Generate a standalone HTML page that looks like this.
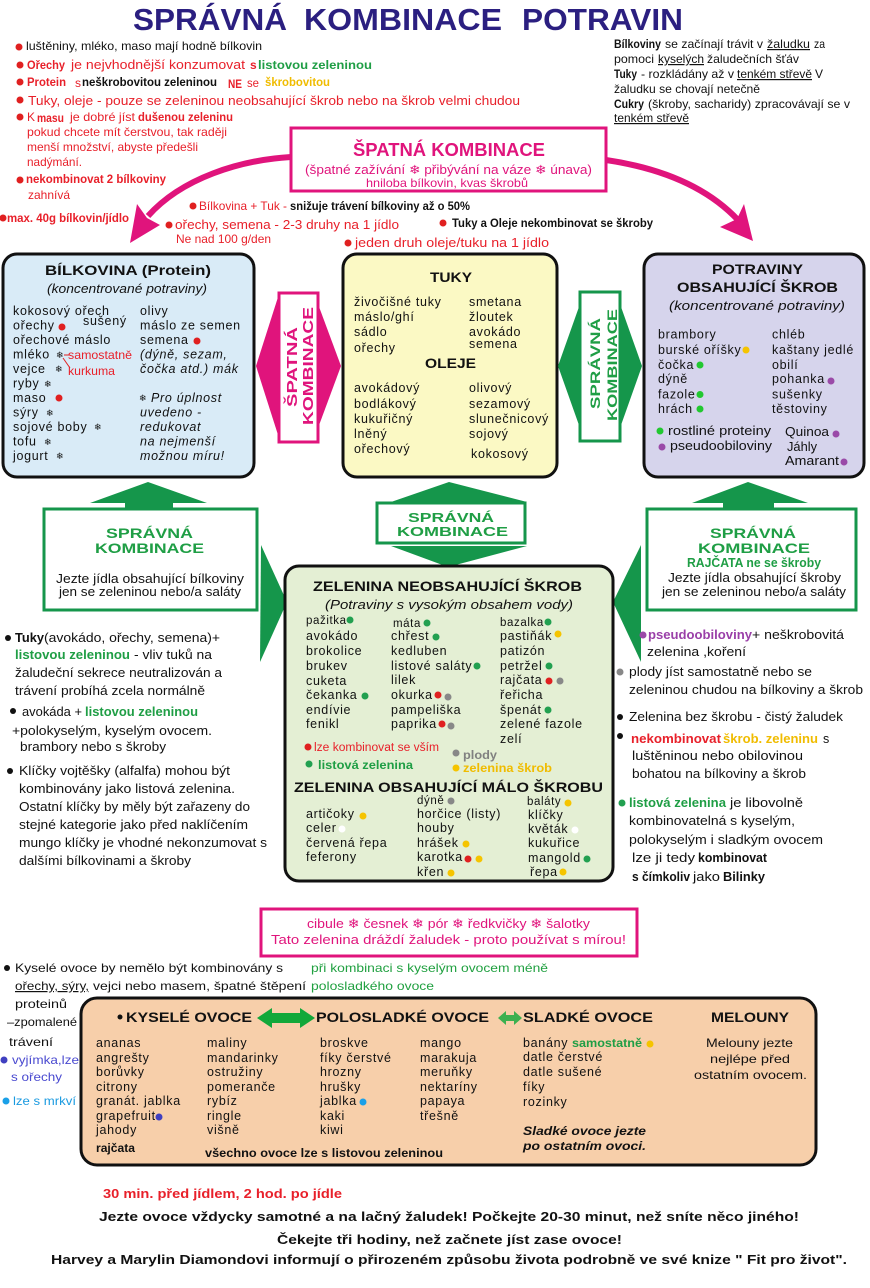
<!DOCTYPE html>
<html><head><meta charset="utf-8">
<style>
html,body{margin:0;padding:0;background:#fff;}
svg{display:block}
text{font-family:"Liberation Sans","DejaVu Sans",sans-serif;font-size:12px;fill:#111}
.bx{font-size:12.5px;letter-spacing:.7px}
.bd{font-weight:bold}
.it{font-style:italic}
.r{fill:#e8202a}
.g{fill:#1f9e45}
.pk{fill:#e0147c}
.gold{fill:#f0bc00}
.sf{font-family:"DejaVu Sans",sans-serif;font-size:9px}
.u{text-decoration:underline}
</style></head><body>
<svg width="870" height="1288" viewBox="0 0 870 1288" xmlns="http://www.w3.org/2000/svg">
<rect width="870" height="1288" fill="#fff"/>

<!-- TITLE -->
<g font-weight="bold">
<text x="133" y="30" style="font-size:31px;fill:#2b1f80;font-weight:bold" textLength="154" lengthAdjust="spacingAndGlyphs">SPRÁVNÁ</text>
<text x="304" y="30" style="font-size:31px;fill:#2b1f80;font-weight:bold" textLength="198" lengthAdjust="spacingAndGlyphs">KOMBINACE</text>
<text x="522" y="30" style="font-size:31px;fill:#2b1f80;font-weight:bold" textLength="161" lengthAdjust="spacingAndGlyphs">POTRAVIN</text>
</g>

<!-- TOP LEFT NOTES -->
<circle cx="19" cy="47" r="3.5" fill="#e02020"/>
<text x="26" y="50" textLength="236" lengthAdjust="spacingAndGlyphs">luštěniny, mléko, maso mají hodně bílkovin</text>
<circle cx="20" cy="65" r="3.5" fill="#e02020"/>
<text x="27" y="69" class="r bd" textLength="38" lengthAdjust="spacingAndGlyphs">Ořechy</text>
<text x="71" y="69" class="r" style="font-size:12.5px" textLength="174" lengthAdjust="spacingAndGlyphs">je nejvhodnější konzumovat</text>
<text x="250" y="69" class="r bd">s</text>
<text x="258" y="69" class="g bd" textLength="114" lengthAdjust="spacingAndGlyphs">listovou zeleninou</text>
<circle cx="20" cy="82" r="3.5" fill="#e02020"/>
<text x="27" y="86" class="r bd" textLength="39" lengthAdjust="spacingAndGlyphs">Protein</text>
<text x="75" y="87" class="r">s</text>
<text x="82" y="86" class="bd" textLength="135" lengthAdjust="spacingAndGlyphs">neškrobovitou zeleninou</text>
<text x="228" y="88" class="r bd" textLength="14" lengthAdjust="spacingAndGlyphs">NE</text>
<text x="247" y="87" class="r" textLength="12" lengthAdjust="spacingAndGlyphs">se</text>
<text x="265" y="86" class="gold bd" textLength="65" lengthAdjust="spacingAndGlyphs">škrobovitou</text>
<circle cx="20" cy="100" r="3.5" fill="#e02020"/>
<text x="28" y="105" class="r" style="font-size:13px" textLength="492" lengthAdjust="spacingAndGlyphs">Tuky, oleje - pouze se zeleninou neobsahující škrob nebo na škrob velmi chudou</text>
<circle cx="20" cy="117" r="3.5" fill="#e02020"/>
<text x="27" y="121" class="r">K</text>
<text x="37" y="122" class="r bd" textLength="27" lengthAdjust="spacingAndGlyphs">masu</text>
<text x="70" y="121" class="r" textLength="65" lengthAdjust="spacingAndGlyphs">je dobré jíst</text>
<text x="138" y="121" class="r bd" textLength="95" lengthAdjust="spacingAndGlyphs">dušenou zeleninu</text>
<text x="27" y="136" class="r" textLength="200" lengthAdjust="spacingAndGlyphs">pokud chcete mít čerstvou, tak raději</text>
<text x="27" y="151" class="r" textLength="171" lengthAdjust="spacingAndGlyphs">menší množství, abyste předešli</text>
<text x="27" y="166" class="r" textLength="55" lengthAdjust="spacingAndGlyphs">nadýmání.</text>
<circle cx="20" cy="180" r="3.5" fill="#e02020"/>
<text x="26" y="183" class="r bd" textLength="140" lengthAdjust="spacingAndGlyphs">nekombinovat 2 bílkoviny</text>
<text x="28" y="199" class="r" textLength="42" lengthAdjust="spacingAndGlyphs">zahnívá</text>
<circle cx="3" cy="218" r="3.5" fill="#e02020"/>
<text x="7" y="222" class="r bd" textLength="122" lengthAdjust="spacingAndGlyphs">max. 40g bílkovin/jídlo</text>
<circle cx="193" cy="206" r="3.5" fill="#e02020"/>
<text x="199" y="210" class="r" textLength="88" lengthAdjust="spacingAndGlyphs">Bílkovina + Tuk -</text>
<text x="290" y="210" class="bd" textLength="180" lengthAdjust="spacingAndGlyphs">snižuje trávení bílkoviny až o 50%</text>
<circle cx="169" cy="225" r="3.5" fill="#e02020"/>
<text x="175" y="229" class="r" style="font-size:13px" textLength="224" lengthAdjust="spacingAndGlyphs">ořechy, semena - 2-3 druhy na 1 jídlo</text>
<text x="176" y="243" class="r" textLength="95" lengthAdjust="spacingAndGlyphs">Ne nad 100 g/den</text>
<circle cx="348" cy="243" r="3.5" fill="#e02020"/>
<text x="355" y="247" class="r" style="font-size:13px" textLength="194" lengthAdjust="spacingAndGlyphs">jeden druh oleje/tuku na 1 jídlo</text>
<circle cx="443" cy="223" r="3.5" fill="#e02020"/>
<text x="452" y="227" class="bd" textLength="201" lengthAdjust="spacingAndGlyphs">Tuky a Oleje nekombinovat se škroby</text>

<!-- TOP RIGHT NOTES -->
<text x="614" y="48" class="bd" textLength="47" lengthAdjust="spacingAndGlyphs">Bílkoviny</text>
<text x="665" y="48" textLength="98" lengthAdjust="spacingAndGlyphs">se začínají trávit v</text>
<text x="767" y="48" class="u" textLength="43" lengthAdjust="spacingAndGlyphs">žaludku</text>
<text x="814" y="48" textLength="11" lengthAdjust="spacingAndGlyphs">za</text>
<text x="614" y="63" textLength="40" lengthAdjust="spacingAndGlyphs">pomoci</text>
<text x="658" y="63" class="u" textLength="46" lengthAdjust="spacingAndGlyphs">kyselých</text>
<text x="707" y="63" textLength="92" lengthAdjust="spacingAndGlyphs">žaludečních šťáv</text>
<text x="614" y="78" class="bd" textLength="23" lengthAdjust="spacingAndGlyphs">Tuky</text>
<text x="641" y="78" textLength="93" lengthAdjust="spacingAndGlyphs">- rozkládány až v</text>
<text x="737" y="78" class="u" textLength="75" lengthAdjust="spacingAndGlyphs">tenkém střevě</text>
<text x="815" y="78">V</text>
<text x="614" y="93" textLength="146" lengthAdjust="spacingAndGlyphs">žaludku se chovají netečně</text>
<text x="614" y="108" class="bd" textLength="30" lengthAdjust="spacingAndGlyphs">Cukry</text>
<text x="648" y="108" textLength="202" lengthAdjust="spacingAndGlyphs">(škroby, sacharidy) zpracovávají se v</text>
<text x="614" y="122" class="u" textLength="75" lengthAdjust="spacingAndGlyphs">tenkém střevě</text>

<!-- SPATNA KOMBINACE BOX -->
<rect x="291" y="128" width="315" height="63" fill="#fff" stroke="#e0147c" stroke-width="3"/>
<text x="353" y="156" class="pk bd" style="font-size:18px" textLength="192" lengthAdjust="spacingAndGlyphs">ŠPATNÁ KOMBINACE</text>
<text x="305" y="174" class="pk" style="font-size:12.5px" textLength="287" lengthAdjust="spacingAndGlyphs">(špatné zažívání ❄ přibývání na váze ❄ únava)</text>
<text x="366" y="187" class="pk" textLength="162" lengthAdjust="spacingAndGlyphs">hniloba bílkovin, kvas škrobů</text>

<!-- pink curved arrows -->
<path d="M291,157 C240,160 182,178 148,216" stroke="#e0147c" stroke-width="6" fill="none"/>
<polygon points="130,243 137,204 147,218 160,225" fill="#e0147c"/>
<path d="M606,160 C660,168 706,186 738,220" stroke="#e0147c" stroke-width="6" fill="none"/>
<polygon points="753,241 744,204 737,219 720,227" fill="#e0147c"/>

<!-- LEFT BOX: BILKOVINA -->
<rect x="3" y="254" width="251" height="223" rx="14" fill="#d9ebf7" stroke="#111" stroke-width="3"/>
<text x="45" y="275" class="bd" style="font-size:14px" textLength="166" lengthAdjust="spacingAndGlyphs">BÍLKOVINA  (Protein)</text>
<text x="47" y="293" class="it" style="font-size:12.5px" textLength="160" lengthAdjust="spacingAndGlyphs">(koncentrované potraviny)</text>
<g class="bx">
<text class="bx" x="13" y="315">kokosový ořech</text>
<text class="bx" x="83" y="325">sušený</text>
<text class="bx" x="13" y="329.5">ořechy</text>
<text class="bx" x="13" y="344">ořechové máslo</text>
<text class="bx" x="13" y="358.5">mléko</text>
<text class="bx" x="13" y="373">vejce</text>
<text class="bx" x="13" y="387.5">ryby</text>
<text class="bx" x="13" y="402">maso</text>
<text class="bx" x="13" y="416.5">sýry</text>
<text class="bx" x="13" y="431">sojové boby</text>
<text class="bx" x="13" y="445.5">tofu</text>
<text class="bx" x="13" y="460">jogurt</text>
<text class="bx" x="140" y="315">olivy</text>
<text class="bx" x="140" y="329.5">máslo ze semen</text>
<text class="bx" x="140" y="344">semena</text>
<text class="bx it" x="140" y="358.5">(dýně, sezam,</text>
<text class="bx it" x="140" y="373">čočka atd.) mák</text>
<text class="bx it" x="151" y="402">Pro úplnost</text>
<text class="bx it" x="140" y="416.5">uvedeno -</text>
<text class="bx it" x="140" y="431">redukovat</text>
<text class="bx it" x="140" y="445.5">na nejmenší</text>
<text class="bx it" x="140" y="460">možnou míru!</text>
</g>
<circle cx="62" cy="327" r="3.5" fill="#e02020"/>
<circle cx="197" cy="341" r="3.5" fill="#e02020"/>
<circle cx="59" cy="398" r="3.5" fill="#e02020"/>
<text class="sf" x="56" y="358">❄</text>
<text class="sf" x="55" y="372">❄</text>
<text class="sf" x="44" y="387">❄</text>
<text class="sf" x="46" y="416">❄</text>
<text class="sf" x="94" y="430">❄</text>
<text class="sf" x="44" y="445">❄</text>
<text class="sf" x="56" y="459">❄</text>
<text class="sf" x="139" y="401">❄</text>
<line x1="64" y1="355" x2="69" y2="355" stroke="#e02020" stroke-width="1"/>
<line x1="63" y1="358" x2="70" y2="368" stroke="#e02020" stroke-width="1"/>
<text x="68" y="359" class="r" textLength="64" lengthAdjust="spacingAndGlyphs">samostatně</text>
<text x="68" y="375" class="r" textLength="47" lengthAdjust="spacingAndGlyphs">kurkuma</text>

<!-- PINK DOUBLE ARROW (vertical label) -->
<polygon points="256,366 279,294 279,438" fill="#e0147c"/>
<polygon points="318,304 341,366 318,428" fill="#e0147c"/>
<rect x="279" y="293" width="39" height="149" fill="#fff" stroke="#e0147c" stroke-width="3"/>
<text transform="translate(297,407) rotate(-90)" class="pk bd" style="font-size:15px" textLength="80" lengthAdjust="spacingAndGlyphs">ŠPATNÁ</text>
<text transform="translate(313,425) rotate(-90)" class="pk bd" style="font-size:15px" textLength="118" lengthAdjust="spacingAndGlyphs">KOMBINACE</text>

<!-- MIDDLE BOX: TUKY -->
<rect x="343" y="254" width="214" height="223" rx="14" fill="#fbf9c4" stroke="#111" stroke-width="3"/>
<text x="430" y="282" class="bd" style="font-size:14px" textLength="42" lengthAdjust="spacingAndGlyphs">TUKY</text>
<text class="bx" x="354" y="306">živočišné tuky</text>
<text class="bx" x="354" y="321">máslo/ghí</text>
<text class="bx" x="354" y="336">sádlo</text>
<text class="bx" x="354" y="352">ořechy</text>
<text class="bx" x="469" y="306">smetana</text>
<text class="bx" x="469" y="321">žloutek</text>
<text class="bx" x="469" y="336">avokádo</text>
<text class="bx" x="469" y="348">semena</text>
<text x="425" y="368" class="bd" style="font-size:14px" textLength="51" lengthAdjust="spacingAndGlyphs">OLEJE</text>
<text class="bx" x="354" y="392">avokádový</text>
<text class="bx" x="354" y="408">bodlákový</text>
<text class="bx" x="354" y="423">kukuřičný</text>
<text class="bx" x="354" y="438">lněný</text>
<text class="bx" x="354" y="453">ořechový</text>
<text class="bx" x="469" y="392">olivový</text>
<text class="bx" x="469" y="408">sezamový</text>
<text class="bx" x="469" y="423">slunečnicový</text>
<text class="bx" x="469" y="438">sojový</text>
<text class="bx" x="471" y="458">kokosový</text>

<!-- GREEN DOUBLE ARROW (vertical label) -->
<polygon points="558,366 580,304 580,428" fill="#15964b"/>
<polygon points="620,304 642,366 620,428" fill="#15964b"/>
<rect x="580" y="292" width="40" height="149" fill="#fff" stroke="#15964b" stroke-width="3"/>
<text transform="translate(600,409) rotate(-90)" class="g bd" style="font-size:14px" textLength="91" lengthAdjust="spacingAndGlyphs">SPRÁVNÁ</text>
<text transform="translate(617,421) rotate(-90)" class="g bd" style="font-size:14px" textLength="112" lengthAdjust="spacingAndGlyphs">KOMBINACE</text>

<!-- RIGHT BOX: SKROB -->
<rect x="644" y="254" width="220" height="223" rx="14" fill="#d6d4ec" stroke="#111" stroke-width="3"/>
<text x="712" y="274" class="bd" style="font-size:14px" textLength="91" lengthAdjust="spacingAndGlyphs">POTRAVINY</text>
<text x="677" y="292" class="bd" style="font-size:14px" textLength="161" lengthAdjust="spacingAndGlyphs">OBSAHUJÍCÍ ŠKROB</text>
<text x="669" y="310" class="it" style="font-size:12.5px" textLength="176" lengthAdjust="spacingAndGlyphs">(koncentrované potraviny)</text>
<text class="bx" x="658" y="338.5">brambory</text>
<text class="bx" x="658" y="354">burské oříšky</text>
<text class="bx" x="658" y="369">čočka</text>
<text class="bx" x="658" y="383">dýně</text>
<text class="bx" x="658" y="398.5">fazole</text>
<text class="bx" x="658" y="413">hrách</text>
<text class="bx" x="772" y="338.5">chléb</text>
<text class="bx" x="772" y="354">kaštany jedlé</text>
<text class="bx" x="772" y="369">obilí</text>
<text class="bx" x="772" y="383">pohanka</text>
<text class="bx" x="772" y="398.5">sušenky</text>
<text class="bx" x="772" y="413">těstoviny</text>
<circle cx="746" cy="350" r="3.5" fill="#f5c400"/>
<circle cx="700" cy="365" r="3.5" fill="#22c830"/>
<circle cx="831" cy="381" r="3.5" fill="#9a4aa8"/>
<circle cx="700" cy="394.5" r="3.5" fill="#22c830"/>
<circle cx="700" cy="409" r="3.5" fill="#22c830"/>
<circle cx="660" cy="431" r="3.5" fill="#22c830"/>
<text x="668" y="435" style="font-size:12.5px" textLength="103" lengthAdjust="spacingAndGlyphs">rostliné proteiny</text>
<circle cx="662" cy="447" r="3.5" fill="#9a4aa8"/>
<text x="670" y="450" style="font-size:12.5px" textLength="102" lengthAdjust="spacingAndGlyphs">pseudoobiloviny</text>
<text x="785" y="436" style="font-size:12.5px" textLength="44" lengthAdjust="spacingAndGlyphs">Quinoa</text>
<circle cx="836" cy="434" r="3.5" fill="#9a4aa8"/>
<text x="787" y="451" style="font-size:12.5px" textLength="30" lengthAdjust="spacingAndGlyphs">Jáhly</text>
<text x="785" y="465" style="font-size:12.5px" textLength="54" lengthAdjust="spacingAndGlyphs">Amarant</text>
<circle cx="844" cy="462" r="3.5" fill="#9a4aa8"/>

<!-- MIDDLE ROW GREEN ARROWS/BOXES -->
<polygon points="148,482 90,503 125,503 125,511 173,511 173,503 207,503" fill="#15964b"/>
<rect x="44" y="509" width="213" height="101" fill="#fff" stroke="#15964b" stroke-width="3"/>
<polygon points="261,545 287,602 260,662" fill="#15964b"/>
<text x="106" y="538" class="g bd" style="font-size:14px" textLength="87" lengthAdjust="spacingAndGlyphs">SPRÁVNÁ</text>
<text x="95" y="553" class="g bd" style="font-size:14px" textLength="109" lengthAdjust="spacingAndGlyphs">KOMBINACE</text>
<text x="56" y="583" style="font-size:12.5px" textLength="188" lengthAdjust="spacingAndGlyphs">Jezte jídla obsahující bílkoviny</text>
<text x="59" y="596" style="font-size:12.5px" textLength="182" lengthAdjust="spacingAndGlyphs">jen se zeleninou nebo/a saláty</text>

<polygon points="449,482 391,502 527,502" fill="#15964b"/>
<rect x="377" y="503" width="148" height="40" fill="#fff" stroke="#15964b" stroke-width="3"/>
<polygon points="391,546 527,546 448,567" fill="#15964b"/>
<text x="408" y="522" class="g bd" style="font-size:12.5px" textLength="86" lengthAdjust="spacingAndGlyphs">SPRÁVNÁ</text>
<text x="397" y="536" class="g bd" style="font-size:12.5px" textLength="111" lengthAdjust="spacingAndGlyphs">KOMBINACE</text>

<polygon points="748,482 692,503 723,503 723,511 774,511 774,503 808,503" fill="#15964b"/>
<rect x="647" y="509" width="209" height="101" fill="#fff" stroke="#15964b" stroke-width="3"/>
<polygon points="641,545 613,602 641,662" fill="#15964b"/>
<text x="710" y="538" class="g bd" style="font-size:14px" textLength="86" lengthAdjust="spacingAndGlyphs">SPRÁVNÁ</text>
<text x="698" y="553" class="g bd" style="font-size:14px" textLength="112" lengthAdjust="spacingAndGlyphs">KOMBINACE</text>
<text x="687" y="567" class="g bd" style="font-size:12.5px" textLength="134" lengthAdjust="spacingAndGlyphs">RAJČATA ne se škroby</text>
<text x="668" y="582" style="font-size:12.5px" textLength="173" lengthAdjust="spacingAndGlyphs">Jezte jídla obsahující škroby</text>
<text x="662" y="596" style="font-size:12.5px" textLength="184" lengthAdjust="spacingAndGlyphs">jen se zeleninou nebo/a saláty</text>

<!-- VEGETABLE BOX -->
<rect x="285" y="566" width="328" height="315" rx="14" fill="#e4efd4" stroke="#111" stroke-width="3"/>
<text x="313" y="591" class="bd" style="font-size:14px" textLength="269" lengthAdjust="spacingAndGlyphs">ZELENINA NEOBSAHUJÍCÍ ŠKROB</text>
<text x="325" y="609" class="it" style="font-size:13px" textLength="248" lengthAdjust="spacingAndGlyphs">(Potraviny s vysokým obsahem vody)</text>
<text x="306" y="624" style="font-size:11.5px;letter-spacing:.6px">pažitka</text>
<text class="bx" x="306" y="640">avokádo</text>
<text class="bx" x="306" y="655">brokolice</text>
<text class="bx" x="306" y="670">brukev</text>
<text class="bx" x="306" y="685">cuketa</text>
<text class="bx" x="306" y="699">čekanka</text>
<text class="bx" x="306" y="714">endívie</text>
<text class="bx" x="306" y="728">fenikl</text>
<text x="393" y="627" style="font-size:11.5px;letter-spacing:.6px">máta</text>
<text class="bx" x="391" y="640">chřest</text>
<text class="bx" x="391" y="655">kedluben</text>
<text class="bx" x="391" y="670">listové saláty</text>
<text class="bx" x="391" y="684">lilek</text>
<text class="bx" x="391" y="699">okurka</text>
<text class="bx" x="391" y="714">pampeliška</text>
<text class="bx" x="391" y="728">paprika</text>
<text x="500" y="626" style="font-size:11.5px;letter-spacing:.6px">bazalka</text>
<text class="bx" x="500" y="640">pastiňák</text>
<text class="bx" x="500" y="655">patizón</text>
<text class="bx" x="500" y="670">petržel</text>
<text class="bx" x="500" y="684">rajčata</text>
<text class="bx" x="500" y="699">řeřicha</text>
<text class="bx" x="500" y="714">špenát</text>
<text class="bx" x="500" y="728">zelené fazole</text>
<text class="bx" x="500" y="743">zelí</text>
<circle cx="350" cy="620" r="3.5" fill="#22a050"/>
<circle cx="365" cy="696" r="3.5" fill="#22a050"/>
<circle cx="427" cy="623" r="3.5" fill="#22a050"/>
<circle cx="436" cy="637" r="3.5" fill="#22a050"/>
<circle cx="477" cy="666" r="3.5" fill="#22a050"/>
<circle cx="438" cy="695" r="3.5" fill="#e02020"/>
<circle cx="448" cy="697" r="3.5" fill="#888"/>
<circle cx="442" cy="724" r="3.5" fill="#e02020"/>
<circle cx="451" cy="726" r="3.5" fill="#888"/>
<circle cx="548" cy="622" r="3.5" fill="#22a050"/>
<circle cx="558" cy="634" r="3.5" fill="#f5c400"/>
<circle cx="549" cy="666" r="3.5" fill="#22a050"/>
<circle cx="549" cy="681" r="3.5" fill="#e02020"/>
<circle cx="560" cy="681" r="3.5" fill="#888"/>
<circle cx="548" cy="710" r="3.5" fill="#22a050"/>
<circle cx="308" cy="747" r="3.5" fill="#e02020"/>
<text x="314" y="751" class="r" style="font-size:11.5px" textLength="125" lengthAdjust="spacingAndGlyphs">lze kombinovat se vším</text>
<circle cx="456" cy="753" r="3.5" fill="#888"/>
<text x="463" y="759" class="bd" style="font-size:12px;fill:#808080" textLength="34" lengthAdjust="spacingAndGlyphs">plody</text>
<circle cx="309" cy="764" r="3.5" fill="#22a050"/>
<text x="318" y="769" class="g bd" textLength="95" lengthAdjust="spacingAndGlyphs">listová zelenina</text>
<circle cx="456" cy="768" r="3.5" fill="#f5c400"/>
<text x="463" y="772" class="gold bd" textLength="89" lengthAdjust="spacingAndGlyphs">zelenina škrob</text>
<text x="294" y="792" class="bd" style="font-size:14px" textLength="309" lengthAdjust="spacingAndGlyphs">ZELENINA OBSAHUJÍCÍ MÁLO ŠKROBU</text>
<text class="bx" x="306" y="818">artičoky</text>
<text class="bx" x="306" y="832">celer</text>
<text class="bx" x="306" y="847">červená řepa</text>
<text class="bx" x="306" y="861">feferony</text>
<text x="417" y="804" style="font-size:11.5px;letter-spacing:.6px">dýně</text>
<text class="bx" x="417" y="818">horčice (listy)</text>
<text class="bx" x="417" y="832">houby</text>
<text class="bx" x="417" y="847">hrášek</text>
<text class="bx" x="417" y="861">karotka</text>
<text class="bx" x="417" y="876">křen</text>
<text x="527" y="805" style="font-size:11.5px;letter-spacing:.6px">baláty</text>
<text class="bx" x="528" y="819">klíčky</text>
<text class="bx" x="528" y="833">květák</text>
<text class="bx" x="528" y="847">kukuřice</text>
<text class="bx" x="528" y="862">mangold</text>
<text class="bx" x="530" y="876">řepa</text>
<circle cx="363" cy="816" r="3.5" fill="#f5c400"/>
<circle cx="342" cy="829" r="3.5" fill="#fff"/>
<circle cx="451" cy="801" r="3.5" fill="#888"/>
<circle cx="466" cy="844" r="3.5" fill="#f5c400"/>
<circle cx="468" cy="859" r="3.5" fill="#e02020"/>
<circle cx="479" cy="859" r="3.5" fill="#f5c400"/>
<circle cx="451" cy="873" r="3.5" fill="#f5c400"/>
<circle cx="568" cy="803" r="3.5" fill="#f5c400"/>
<circle cx="575" cy="830" r="3.5" fill="#fff"/>
<circle cx="587" cy="859" r="3.5" fill="#22a050"/>
<circle cx="563" cy="872" r="3.5" fill="#f5c400"/>

<!-- LEFT SIDE TEXT -->
<circle cx="8" cy="638" r="3" fill="#111"/>
<text x="15" y="642" class="bd" style="font-size:12.5px" textLength="29" lengthAdjust="spacingAndGlyphs">Tuky</text>
<text x="44" y="642" style="font-size:12.5px" textLength="176" lengthAdjust="spacingAndGlyphs">(avokádo, ořechy, semena)+</text>
<text x="15" y="659" class="g bd" style="font-size:12.5px" textLength="115" lengthAdjust="spacingAndGlyphs">listovou zeleninou</text>
<text x="134" y="659" style="font-size:12.5px" textLength="78" lengthAdjust="spacingAndGlyphs">- vliv tuků na</text>
<text x="15" y="677" style="font-size:12.5px" textLength="207" lengthAdjust="spacingAndGlyphs">žaludeční sekrece neutralizován a</text>
<text x="15" y="695" style="font-size:12.5px" textLength="190" lengthAdjust="spacingAndGlyphs">trávení probíhá zcela normálně</text>
<circle cx="13" cy="711" r="3" fill="#111"/>
<text x="22" y="716" style="font-size:12.5px" textLength="60" lengthAdjust="spacingAndGlyphs">avokáda +</text>
<text x="85" y="716" class="g bd" style="font-size:12.5px" textLength="113" lengthAdjust="spacingAndGlyphs">listovou zeleninou</text>
<text x="12" y="735" style="font-size:12.5px" textLength="200" lengthAdjust="spacingAndGlyphs">+polokyselým, kyselým ovocem.</text>
<text x="20" y="751" style="font-size:12.5px" textLength="146" lengthAdjust="spacingAndGlyphs">brambory nebo s škroby</text>
<circle cx="10" cy="771" r="3" fill="#111"/>
<text x="19" y="775" style="font-size:12.5px" textLength="211" lengthAdjust="spacingAndGlyphs">Klíčky vojtěšky (alfalfa) mohou být</text>
<text x="19" y="793" style="font-size:12.5px" textLength="216" lengthAdjust="spacingAndGlyphs">kombinovány jako listová zelenina.</text>
<text x="19" y="811" style="font-size:12.5px" textLength="231" lengthAdjust="spacingAndGlyphs">Ostatní klíčky by měly být zařazeny do</text>
<text x="19" y="829" style="font-size:12.5px" textLength="229" lengthAdjust="spacingAndGlyphs">stejné kategorie jako před naklíčením</text>
<text x="19" y="847" style="font-size:12.5px" textLength="248" lengthAdjust="spacingAndGlyphs">mungo klíčky je vhodné nekonzumovat s</text>
<text x="19" y="865" style="font-size:12.5px" textLength="172" lengthAdjust="spacingAndGlyphs">dalšími bílkovinami a škroby</text>

<!-- RIGHT SIDE TEXT -->
<circle cx="643" cy="635" r="3.5" fill="#9a4aa8"/>
<text x="648" y="639" class="bd" style="font-size:12.5px;fill:#9a3fa8" textLength="104" lengthAdjust="spacingAndGlyphs">pseudoobiloviny</text>
<text x="752" y="639" style="font-size:12.5px" textLength="92" lengthAdjust="spacingAndGlyphs">+ neškrobovitá</text>
<text x="647" y="656" style="font-size:12.5px" textLength="99" lengthAdjust="spacingAndGlyphs">zelenina ,koření</text>
<circle cx="620" cy="672" r="3.5" fill="#888"/>
<text x="629" y="676" style="font-size:12.5px" textLength="183" lengthAdjust="spacingAndGlyphs">plody jíst samostatně nebo se</text>
<text x="629" y="694" style="font-size:12.5px" textLength="234" lengthAdjust="spacingAndGlyphs">zeleninou chudou na bílkoviny a škrob</text>
<circle cx="620" cy="717" r="3" fill="#111"/>
<text x="629" y="721" style="font-size:12.5px" textLength="214" lengthAdjust="spacingAndGlyphs">Zelenina bez škrobu - čistý žaludek</text>
<circle cx="620" cy="736" r="3" fill="#111"/>
<text x="631" y="743" class="r bd" style="font-size:12.5px" textLength="90" lengthAdjust="spacingAndGlyphs">nekombinovat</text>
<text x="723" y="743" class="gold bd" style="font-size:12.5px" textLength="95" lengthAdjust="spacingAndGlyphs">škrob. zeleninu</text>
<text x="823" y="743" style="font-size:12.5px">s</text>
<text x="632" y="760" style="font-size:12.5px" textLength="171" lengthAdjust="spacingAndGlyphs">luštěninou nebo obilovinou</text>
<text x="632" y="778" style="font-size:12.5px" textLength="174" lengthAdjust="spacingAndGlyphs">bohatou na bílkoviny a škrob</text>
<circle cx="622" cy="803" r="3.5" fill="#22a050"/>
<text x="629" y="807" class="g bd" style="font-size:12.5px" textLength="97" lengthAdjust="spacingAndGlyphs">listová zelenina</text>
<text x="730" y="807" style="font-size:12.5px" textLength="73" lengthAdjust="spacingAndGlyphs">je libovolně</text>
<text x="629" y="825" style="font-size:12.5px" textLength="166" lengthAdjust="spacingAndGlyphs">kombinovatelná s kyselým,</text>
<text x="629" y="844" style="font-size:12.5px" textLength="194" lengthAdjust="spacingAndGlyphs">polokyselým i sladkým ovocem</text>
<text x="632" y="862" style="font-size:12.5px" textLength="63" lengthAdjust="spacingAndGlyphs">lze ji tedy</text>
<text x="698" y="862" class="bd" style="font-size:12.5px" textLength="69" lengthAdjust="spacingAndGlyphs">kombinovat</text>
<text x="632" y="881" class="bd" style="font-size:12.5px" textLength="58" lengthAdjust="spacingAndGlyphs">s čímkoliv</text>
<text x="693" y="881" style="font-size:12.5px" textLength="27" lengthAdjust="spacingAndGlyphs">jako</text>
<text x="723" y="881" class="bd" style="font-size:12.5px" textLength="42" lengthAdjust="spacingAndGlyphs">Bilinky</text>

<!-- PINK ONION BOX -->
<rect x="261" y="909" width="376" height="47" fill="#fff" stroke="#e0147c" stroke-width="3"/>
<text x="307" y="928" class="pk" style="font-size:13px" textLength="283" lengthAdjust="spacingAndGlyphs">cibule ❄ česnek ❄ pór ❄ ředkvičky ❄ šalotky</text>
<text x="271" y="944" class="pk" style="font-size:13px" textLength="355" lengthAdjust="spacingAndGlyphs">Tato zelenina dráždí žaludek - proto používat s mírou!</text>

<!-- FRUIT SIDE NOTES -->
<circle cx="7" cy="968" r="3" fill="#111"/>
<text x="15" y="972" textLength="268" lengthAdjust="spacingAndGlyphs">Kyselé ovoce by nemělo být kombinovány s</text>
<text x="15" y="990" class="u" textLength="74" lengthAdjust="spacingAndGlyphs">ořechy, sýry,</text>
<text x="93" y="990" textLength="213" lengthAdjust="spacingAndGlyphs">vejci nebo masem, špatné štěpení</text>
<text x="15" y="1008" textLength="52" lengthAdjust="spacingAndGlyphs">proteinů</text>
<text x="7" y="1026" textLength="70" lengthAdjust="spacingAndGlyphs">–zpomalené</text>
<text x="9" y="1046" textLength="44" lengthAdjust="spacingAndGlyphs">trávení</text>
<circle cx="4" cy="1060" r="3.5" fill="#4040c0"/>
<text x="12" y="1064" style="fill:#4a4ad0" textLength="67" lengthAdjust="spacingAndGlyphs">vyjímka,lze</text>
<text x="11" y="1081" style="fill:#4a4ad0" textLength="51" lengthAdjust="spacingAndGlyphs">s ořechy</text>
<circle cx="6" cy="1101" r="3.5" fill="#1aa0e8"/>
<text x="13" y="1105" style="fill:#1a9ae0" textLength="63" lengthAdjust="spacingAndGlyphs">lze s mrkví</text>
<text x="311" y="972" style="fill:#20a040" textLength="237" lengthAdjust="spacingAndGlyphs">při kombinaci s kyselým ovocem méně</text>
<text x="311" y="990" style="fill:#20a040" textLength="123" lengthAdjust="spacingAndGlyphs">polosladkého ovoce</text>

<!-- FRUIT BOX -->
<rect x="81" y="998" width="735" height="167" rx="16" fill="#f7cfaa" stroke="#111" stroke-width="3"/>
<circle cx="120" cy="1017" r="2.5" fill="#111"/>
<text x="126" y="1022" class="bd" style="font-size:14px" textLength="126" lengthAdjust="spacingAndGlyphs">KYSELÉ OVOCE</text>
<polygon points="257,1018 272,1008 272,1013 300,1013 300,1008 315,1018 300,1028 300,1023 272,1023 272,1028" fill="#12a83a"/>
<text x="316" y="1022" class="bd" style="font-size:14px" textLength="173" lengthAdjust="spacingAndGlyphs">POLOSLADKÉ OVOCE</text>
<polygon points="498,1018 506,1011 506,1015 514,1015 514,1011 522,1018 514,1025 514,1021 506,1021 506,1025" fill="#3cb050"/>
<text x="523" y="1022" class="bd" style="font-size:14px" textLength="130" lengthAdjust="spacingAndGlyphs">SLADKÉ  OVOCE</text>
<text x="711" y="1022" class="bd" style="font-size:14px" textLength="78" lengthAdjust="spacingAndGlyphs">MELOUNY</text>
<g>
<text class="bx" x="96" y="1047">ananas</text>
<text class="bx" x="96" y="1062">angrešty</text>
<text class="bx" x="96" y="1076">borůvky</text>
<text class="bx" x="96" y="1091">citrony</text>
<text class="bx" x="96" y="1105">granát. jablka</text>
<text class="bx" x="96" y="1120">grapefruit</text>
<text class="bx" x="96" y="1134">jahody</text>
<text x="96" y="1152" class="bd" textLength="39" lengthAdjust="spacingAndGlyphs">rajčata</text>
<text class="bx" x="207" y="1047">maliny</text>
<text class="bx" x="207" y="1062">mandarinky</text>
<text class="bx" x="207" y="1076">ostružiny</text>
<text class="bx" x="207" y="1091">pomeranče</text>
<text class="bx" x="207" y="1105">rybíz</text>
<text class="bx" x="207" y="1120">ringle</text>
<text class="bx" x="207" y="1134">višně</text>
<text class="bx" x="320" y="1047">broskve</text>
<text class="bx" x="320" y="1062">fíky čerstvé</text>
<text class="bx" x="320" y="1076">hrozny</text>
<text class="bx" x="320" y="1091">hrušky</text>
<text class="bx" x="320" y="1105">jablka</text>
<text class="bx" x="320" y="1120">kaki</text>
<text class="bx" x="320" y="1134">kiwi</text>
<text class="bx" x="420" y="1047">mango</text>
<text class="bx" x="420" y="1062">marakuja</text>
<text class="bx" x="420" y="1076">meruňky</text>
<text class="bx" x="420" y="1091">nektaríny</text>
<text class="bx" x="420" y="1105">papaya</text>
<text class="bx" x="420" y="1120">třešně</text>
<text class="bx" x="523" y="1047">banány</text>
<text class="bx" x="523" y="1061">datle čerstvé</text>
<text class="bx" x="523" y="1076">datle sušené</text>
<text class="bx" x="523" y="1091">fíky</text>
<text class="bx" x="523" y="1106">rozinky</text>
</g>
<circle cx="159" cy="1117" r="3.5" fill="#4040c0"/>
<circle cx="363" cy="1102" r="3.5" fill="#1aa0e8"/>
<text x="572" y="1047" class="g bd" textLength="70" lengthAdjust="spacingAndGlyphs">samostatně</text>
<circle cx="650" cy="1044" r="3.5" fill="#f5c400"/>
<text x="205" y="1157" class="bd" textLength="238" lengthAdjust="spacingAndGlyphs">všechno ovoce lze s listovou zeleninou</text>
<text x="523" y="1135" class="bd it" textLength="123" lengthAdjust="spacingAndGlyphs">Sladké ovoce jezte</text>
<text x="523" y="1150" class="bd it" textLength="123" lengthAdjust="spacingAndGlyphs">po ostatním ovoci.</text>
<text x="706" y="1047" textLength="87" lengthAdjust="spacingAndGlyphs">Melouny jezte</text>
<text x="710" y="1063" textLength="80" lengthAdjust="spacingAndGlyphs">nejlépe před</text>
<text x="694" y="1079" textLength="113" lengthAdjust="spacingAndGlyphs">ostatním ovocem.</text>

<!-- BOTTOM TEXT -->
<text x="103" y="1198" class="r bd" style="font-size:13px" textLength="239" lengthAdjust="spacingAndGlyphs">30 min. před jídlem, 2 hod. po jídle</text>
<text x="99" y="1221" class="bd" style="font-size:13px" textLength="700" lengthAdjust="spacingAndGlyphs">Jezte ovoce vždycky samotné a na lačný žaludek! Počkejte 20-30 minut, než sníte něco jiného!</text>
<text x="277" y="1244" class="bd" style="font-size:13px" textLength="345" lengthAdjust="spacingAndGlyphs">Čekejte tři hodiny, než začnete jíst zase ovoce!</text>
<text x="51" y="1264" class="bd" style="font-size:13px" textLength="796" lengthAdjust="spacingAndGlyphs">Harvey a Marylin Diamondovi informují o přirozeném způsobu života podrobně ve své knize " Fit pro život".</text>
</svg>
</body></html>
